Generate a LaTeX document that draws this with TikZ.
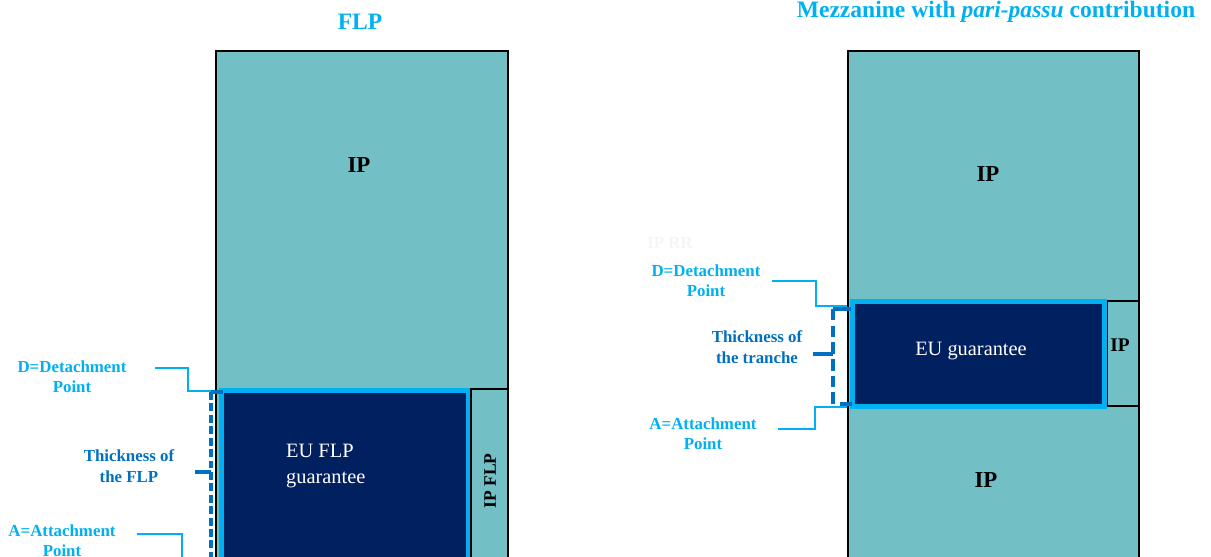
\documentclass[tikz,border=0pt]{standalone}
\usepackage{fontspec}
\setmainfont{Liberation Serif}
\usetikzlibrary{positioning,fit}
\definecolor{tealip}{RGB}{114,191,197}
\definecolor{navyeu}{RGB}{0,32,96}
\definecolor{skyline}{RGB}{0,176,240}
\definecolor{darkline}{RGB}{0,112,192}
\tikzstyle{ipbox} = [draw=black, line width=0.6pt, fill=tealip, inner sep=0pt]
\tikzstyle{eubox} = [draw=skyline, line width=3.2pt, fill=navyeu, inner sep=0pt]
\tikzstyle{title} = [text=skyline, font=\fontsize{13.4}{15}\selectfont\bfseries]
\tikzstyle{iptext} = [font=\fontsize{13}{15}\selectfont\bfseries]
\tikzstyle{eutext} = [text=white, font=\fontsize{11.6}{14.6}\selectfont, align=left]
\tikzstyle{pointlabel} = [text=skyline, font=\fontsize{9.6}{11.3}\selectfont\bfseries, align=center, inner sep=0pt]
\tikzstyle{thicklabel} = [text=darkline, font=\fontsize{9.6}{11.6}\selectfont\bfseries, align=center, inner sep=0pt]
\tikzstyle{leader} = [draw=skyline, line width=1.1pt]
\tikzstyle{tickline} = [draw=darkline, line width=2.2pt]
\tikzstyle{spanline} = [draw=darkline, line width=2.2pt, dash pattern=on 4.5pt off 2pt]

\begin{document}
\begin{tikzpicture}[x=0.02cm, y=-0.02cm]
        \useasboundingbox (0,0) rectangle (1211,556);
        \clip (0,0) rectangle (1211,556);
        % FLP
        \node (flptitle) [title] at (360,22) {FLP};
        \node (flpip) [ipbox, fit={(216,51) (508,590)}] {};
        \node (flpeu) [eubox, fit={(221.5,390.5) (469,590)}] {};
        \node (flpipside) [ipbox, fit={(471,389) (507.5,590)}] {};
        \node (flpiptext) [iptext] at (359,165) {IP};
        \node (flpeutext) [eutext, anchor=west] at (280,466) {EU FLP\\guarantee};
        \node (flpsidetext) [font=\fontsize{10}{12}\selectfont\bfseries, rotate=90] at (490,481) {IP FLP};
        \node (flpd) [pointlabel] at (72,377) {D=Detachment\\Point};
        \node (flpthick) [thicklabel] at (129,466) {Thickness of\\the FLP};
        \node (flpa) [pointlabel] at (62,541) {A=Attachment\\Point};
        \coordinate (flpdstart) at (155,368);
        \coordinate (flpastart) at (137,534);
        \coordinate (flpspantop) at (211,392);
        \coordinate (flpspanmid) at (211,472);
        \coordinate (flpspanend) at (211,560);
        \draw [leader] (flpdstart) -| (188,391) -- (flpip.west |- 0,391);
        \draw [leader] (flpastart) -| (182,560);
        \draw [spanline] (flpspantop) -- (flpspanend);
        \draw [tickline] (flpspantop) -- (223,392);
        \draw [tickline] (flpspanmid) -- ++(-16,0);
        % Mezzanine
        \node (mezztitle) [title] at (996,12) {Mezzanine with \textit{pari-passu} contribution};
        \node (mezzip) [ipbox, fit={(848,51) (1139,590)}] {};
        \node (mezzeu) [eubox, fit={(852.5,301.5) (1104.5,406.5)}] {};
        \node (mezzipside) [ipbox, fit={(1107.5,301) (1139,406)}] {};
        \node (mezziptop) [iptext] at (988,174) {IP};
        \node (mezzipbottom) [iptext] at (986,480) {IP};
        \node (mezzipsidetext) [font=\fontsize{11}{13}\selectfont\bfseries] at (1120,345) {IP};
        \node (mezzeutext) [eutext] at (971,351) {EU guarantee};
        \node (mezzghost) [font=\fontsize{9.6}{11}\selectfont\bfseries, text=black!4] at (670,243) {IP RR};
        \node (mezzd) [pointlabel] at (706,281) {D=Detachment\\Point};
        \node (mezzthick) [thicklabel] at (757,347) {Thickness of\\the tranche};
        \node (mezza) [pointlabel] at (703,434) {A=Attachment\\Point};
        \coordinate (mezzdstart) at (772,281);
        \coordinate (mezzastart) at (778,429);
        \coordinate (mezzspantop) at (833,309);
        \coordinate (mezzspanmid) at (833,354);
        \coordinate (mezzspanend) at (833,405);
        \draw [leader] (mezzdstart) -| (816,306) -- (mezzip.west |- 0,306);
        \draw [leader] (mezzastart) -| (815,407) -- (mezzip.west |- 0,407);
        \draw [spanline, dash pattern=on 6.5pt off 3pt] (mezzspantop) -- (mezzspanend);
        \draw [tickline] (mezzspantop) -- (851,309);
        \draw [tickline] (mezzspanend) ++(7,-1) -- ++(12,0);
        \draw [tickline] (mezzspanmid) -- ++(-20,0);
\end{tikzpicture}
\end{document}
